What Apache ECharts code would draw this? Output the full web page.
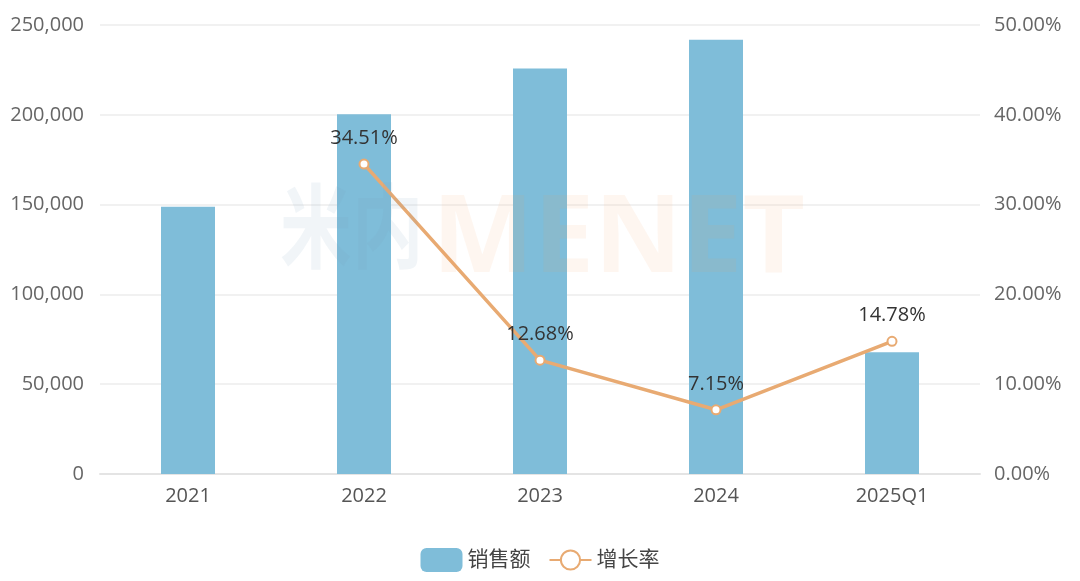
<!DOCTYPE html>
<html>
<head>
<meta charset="utf-8">
<script src="https://cdn.jsdelivr.net/npm/echarts@6/dist/echarts.min.js"></script>
<style>
  html, body { margin: 0; padding: 0; background: #fff; }
  #chart { width: 1080px; height: 581px; }
</style>
</head>
<body>
<div id="chart"></div>
<script>
// data
var years = ['2021', '2022', '2023', '2024', '2025Q1'];
var sales = [148800, 200300, 225800, 241800, 67800];
var growth = [null, 34.51, 12.68, 7.15, 14.78];

var font = '"Open Sans", "Noto Sans CJK SC", sans-serif';

var chart = echarts.init(document.getElementById('chart'));
chart.setOption({
  animation: false,
  textStyle: { fontFamily: font },
  grid: { left: 100, right: 100, top: 25, bottom: 107, containLabel: false },
  legend: {
    bottom: 4,
    left: 'center',
    itemWidth: 42,
    itemHeight: 24,
    itemGap: 18,
    textStyle: { fontSize: 21, color: '#444', fontFamily: font },
    data: [
      { name: '销售额', icon: 'roundRect' },
      { name: '增长率' }
    ]
  },
  graphic: [
    {
      type: 'text', x: 280, y: 180, scaleX: 0.78, z: 100, silent: true,
      style: { text: '米内', font: 'bold 92px "Noto Sans CJK SC"', fill: 'rgba(120,160,190,0.10)' }
    },
    {
      type: 'text', x: 432, y: 187, z: 100, silent: true,
      style: { text: 'MENET', font: 'bold 108px "Open Sans"', fill: 'rgba(245,160,90,0.09)' }
    }
  ],
  xAxis: {
    type: 'category',
    data: years,
    axisTick: { show: false },
    axisLine: { lineStyle: { color: '#e4e4e4', width: 2 } },
    axisLabel: { fontSize: 20, color: '#555', margin: 12 }
  },
  yAxis: [
    {
      type: 'value', min: 0, max: 250000, interval: 50000,
      axisLabel: {
        fontSize: 20, color: '#666', margin: 16,
        formatter: function (v) { return v.toLocaleString('en-US'); }
      },
      splitLine: { lineStyle: { color: '#ececec', width: 1.5 } }
    },
    {
      type: 'value', min: 0, max: 50, interval: 10,
      axisLabel: {
        fontSize: 20, color: '#666', margin: 14,
        formatter: function (v) { return v.toFixed(2) + '%'; }
      },
      splitLine: { show: false }
    }
  ],
  series: [
    {
      name: '销售额',
      type: 'bar',
      data: sales,
      barWidth: 54,
      itemStyle: { color: '#7fbdd9' }
    },
    {
      name: '增长率',
      type: 'line',
      yAxisIndex: 1,
      data: growth,
      symbol: 'emptyCircle',
      symbolSize: 9,
      itemStyle: { color: '#e8aa72', borderWidth: 2.5 },
      lineStyle: { color: '#e8aa72', width: 3.5 },
      label: {
        show: true, position: 'top', distance: 10,
        fontSize: 20, color: '#333',
        formatter: function (p) { return p.value.toFixed(2) + '%'; }
      }
    }
  ]
});
</script>
</body>
</html>
